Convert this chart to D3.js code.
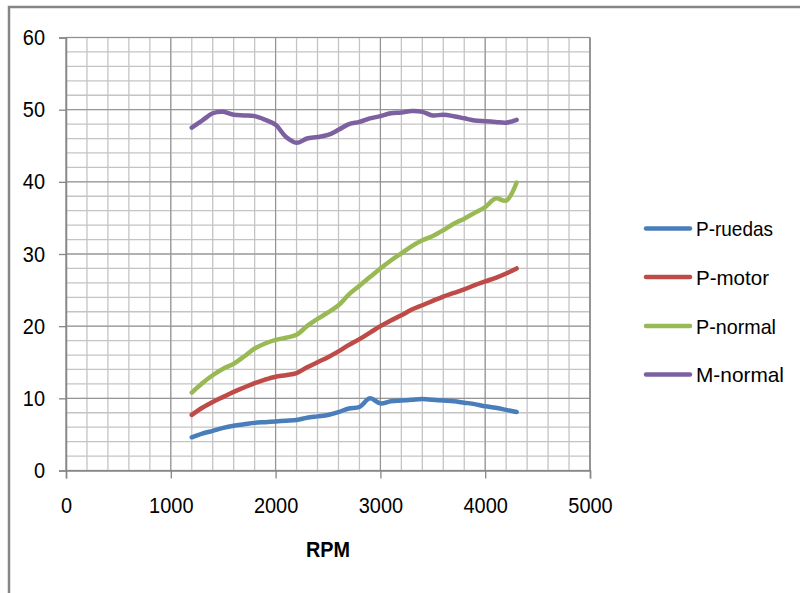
<!DOCTYPE html>
<html>
<head>
<meta charset="utf-8">
<script src="https://cdn.jsdelivr.net/npm/d3@7"></script>
<style>
  html, body { margin: 0; padding: 0; background: #fff; }
  svg { display: block; }
  text { font-family: "Liberation Sans", Arial, sans-serif; fill: #000; }
</style>
</head>
<body>
<svg id="chart" width="800" height="593"></svg>
<script>
const rpm = [1200,1300,1400,1500,1600,1700,1800,1900,2000,2100,2200,2300,2400,2500,2600,2700,2800,2900,3000,3100,3200,3300,3400,3500,3600,3700,3800,3900,4000,4100,4200,4300];
const pRuedas = [4.6,5.1,5.5,5.9,6.2,6.4,6.6,6.7,6.8,6.9,7.0,7.3,7.5,7.7,8.1,8.6,8.8,10.0,9.3,9.6,9.7,9.8,9.9,9.8,9.7,9.6,9.4,9.2,8.9,8.7,8.4,8.1];
const pMotor = [7.7,8.7,9.5,10.2,10.9,11.5,12.1,12.6,13.0,13.2,13.5,14.3,15.0,15.7,16.5,17.4,18.2,19.1,20.0,20.8,21.5,22.3,22.9,23.5,24.1,24.6,25.1,25.7,26.2,26.7,27.3,28.0];
const pNormal = [10.8,12.1,13.2,14.1,14.8,15.8,16.9,17.6,18.1,18.4,18.8,20.0,21.0,21.9,22.9,24.4,25.6,26.8,28.0,29.1,30.1,31.1,31.9,32.5,33.3,34.2,34.9,35.7,36.5,37.7,37.4,39.9];
const mNormal = [47.5,48.5,49.5,49.7,49.3,49.2,49.1,48.6,47.9,46.2,45.4,46.0,46.2,46.5,47.2,48.0,48.3,48.8,49.1,49.5,49.6,49.8,49.7,49.2,49.3,49.1,48.8,48.5,48.4,48.3,48.2,48.6];
const seriesNames = ["P-ruedas","P-motor","P-normal","M-normal"];
const seriesColors = ["#4A7EBB","#BE4B48","#98B954","#7D60A0"];
const xTicks = [0,1000,2000,3000,4000,5000];
const yTicks = [0,10,20,30,40,50,60];
const xTitle = "RPM";

const seriesValues = [pRuedas, pMotor, pNormal, mNormal];

const svg = d3.select("#chart");
const L = 66, R = 590, T = 37.5, B = 470.5;
const digitW = 11.1; // condensed look of the original font

// outer chart frame
svg.append("rect").attr("x", 9).attr("y", 7).attr("width", 820).attr("height", 620)
  .attr("fill", "#fff").attr("stroke", "#868686").attr("stroke-width", 2.5);

const x = d3.scaleLinear().domain([0, 5000]).range([L, R]);
const y = d3.scaleLinear().domain([0, 60]).range([B, T]);

// minor gridlines
const g = svg.append("g");
g.selectAll("line.vminor").data(d3.range(0, 5001, 200)).join("line")
  .attr("x1", d => x(d)).attr("x2", d => x(d)).attr("y1", T).attr("y2", B)
  .attr("stroke", "#c4c4c4").attr("stroke-width", 1.3);
g.selectAll("line.hminor").data(d3.range(0, 61, 2)).join("line")
  .attr("y1", d => y(d)).attr("y2", d => y(d)).attr("x1", L).attr("x2", R)
  .attr("stroke", "#c4c4c4").attr("stroke-width", 1.3);
// major gridlines
g.selectAll("line.vmajor").data(xTicks).join("line")
  .attr("x1", d => x(d)).attr("x2", d => x(d)).attr("y1", T).attr("y2", B)
  .attr("stroke", "#8f8f8f").attr("stroke-width", 1);
g.selectAll("line.hmajor").data(yTicks).join("line")
  .attr("y1", d => y(d)).attr("y2", d => y(d)).attr("x1", L).attr("x2", R)
  .attr("stroke", "#8f8f8f").attr("stroke-width", 1);

// axes
const xAxis = d3.axisBottom(x).tickValues(xTicks).tickSize(8).tickPadding(19).tickFormat(d3.format("d"));
const yAxis = d3.axisLeft(y).tickValues(yTicks).tickSize(7).tickPadding(14).tickFormat(d3.format("d"));
const gx = svg.append("g").attr("transform", `translate(0,${B})`).call(xAxis);
const gy = svg.append("g").attr("transform", `translate(${L},0)`).call(yAxis);
[gx, gy].forEach(a => {
  a.selectAll("path").attr("stroke", "#868686").attr("stroke-width", 1.5);
  a.selectAll("line").attr("stroke", "#868686").attr("stroke-width", 1.3);
  a.selectAll("text").style("font-size", "22px").attr("fill", "#000")
    .attr("textLength", d => String(d).length * digitW)
    .attr("lengthAdjust", "spacingAndGlyphs");
});
svg.append("line").attr("x1", R).attr("x2", R).attr("y1", T).attr("y2", B).attr("stroke", "#868686").attr("stroke-width", 1.3);

// x title
svg.append("text").attr("x", (x(0) + x(5000)) / 2).attr("y", 557).attr("text-anchor", "middle")
  .style("font-size", "22px").style("font-weight", "bold")
  .attr("textLength", 44).attr("lengthAdjust", "spacingAndGlyphs").text(xTitle);

// lines
const line = d3.line().x((d, i) => x(rpm[i])).y(d => y(d)).curve(d3.curveCatmullRom.alpha(0.5));
svg.append("g").selectAll("path").data(seriesValues).join("path")
  .attr("d", d => line(d)).attr("fill", "none")
  .attr("stroke", (d, i) => seriesColors[i]).attr("stroke-width", 4.5)
  .attr("stroke-linecap", "round").attr("stroke-linejoin", "round");

// legend
const lg = svg.append("g");
const legY = [228.5, 277, 326, 374.5];
const legW = [77, 73, 80, 88];
seriesNames.forEach((n, i) => {
  lg.append("line").attr("x1", 646).attr("x2", 690).attr("y1", legY[i]).attr("y2", legY[i])
    .attr("stroke", seriesColors[i]).attr("stroke-width", 4.5).attr("stroke-linecap", "round");
  lg.append("text").attr("x", 696).attr("y", legY[i] + 7.5).style("font-size", "21px")
    .attr("textLength", legW[i]).attr("lengthAdjust", "spacingAndGlyphs").text(n);
});
</script>
</body>
</html>
